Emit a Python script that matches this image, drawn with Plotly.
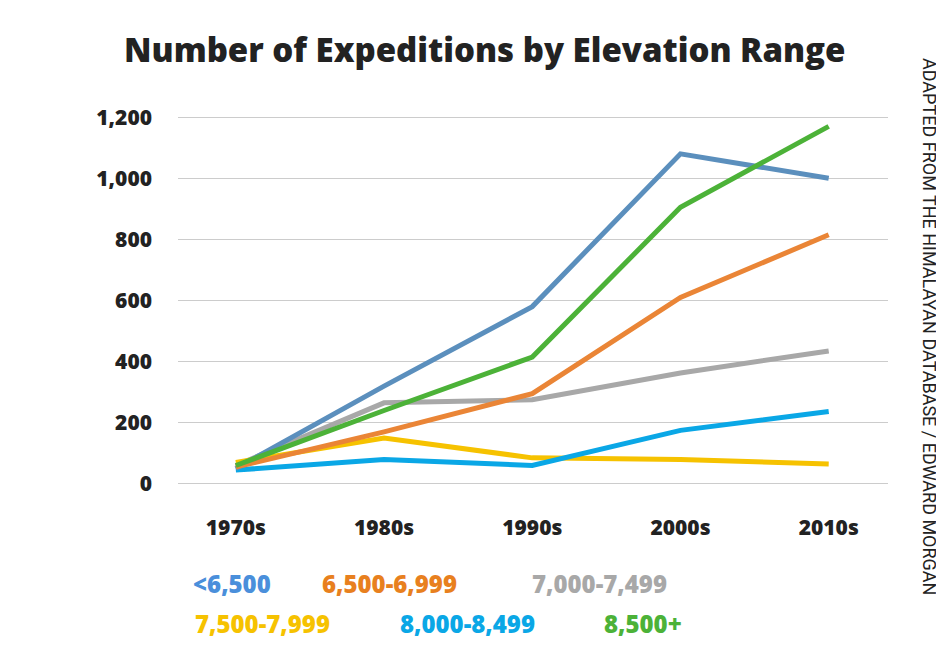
import plotly.graph_objects as go

decades = ["1970s", "1980s", "1990s", "2000s", "2010s"]
series_names = ["<6,500", "6,500-6,999", "7,000-7,499", "7,500-7,999", "8,000-8,499", "8,500+"]
v_lt6500 = [50, 320, 580, 1080, 1000]
v_6500 = [55, 170, 295, 610, 815]
v_7000 = [60, 265, 275, 363, 435]
v_7500 = [70, 150, 85, 80, 65]
v_8000 = [45, 80, 60, 175, 237]
v_8500 = [60, 240, 415, 905, 1170]
values = [v_lt6500, v_6500, v_7000, v_7500, v_8000, v_8500]
line_colors = ["#5b8fbd", "#ea8536", "#a8a8a8", "#f6c200", "#0aa7e6", "#4cb238"]
text_colors = ["#4a8fdb", "#e8801e", "#a8a8a8", "#f6c200", "#0aa7e6", "#4cb238"]
tick_vals = [0, 200, 400, 600, 800, 1000, 1200]
tick_text = ["0", "200", "400", "600", "800", "1,000", "1,200"]

order = [2, 3, 4, 0, 1, 5]
fig = go.Figure()
for i in order:
    fig.add_trace(go.Scatter(x=list(range(len(decades))), y=values[i], mode="lines",
                             name=series_names[i], line=dict(color=line_colors[i], width=5)))

L, R, T, B = 170, 880, 100, 485
W, H = R - L, B - T
def px(x): return (x - L) / W
def py(y): return (B - y) / H

font = "Open Sans"
ann = [dict(text="Number of Expeditions by Elevation Range", x=px(477), y=py(42),
            xanchor="center", yanchor="middle",
            xref="paper", yref="paper", showarrow=False,
            font=dict(size=33, color="#222", family=font, weight=800)),
       dict(text="ADAPTED FROM THE HIMALAYAN DATABASE / EDWARD MORGAN", x=px(922), y=py(318),
            xanchor="center", yanchor="middle",
            xref="paper", yref="paper", showarrow=False, textangle=90,
            font=dict(size=18, color="#222", family="Roboto"))]
legend_pos = [(183, 575), (312, 575), (522, 575), (185, 615), (390, 615), (594, 615)]
for i, (lx, ly) in enumerate(legend_pos):
    ann.append(dict(text=series_names[i], x=px(lx), y=py(ly), xanchor="left", yanchor="middle",
                    xref="paper", yref="paper", showarrow=False,
                    font=dict(size=24, color=text_colors[i], family=font, weight=800)))

fig.update_layout(
    width=944, height=672, margin=dict(l=L, r=944 - R, t=T, b=672 - B),
    paper_bgcolor="white", plot_bgcolor="white", showlegend=False, annotations=ann,
    font=dict(family=font, color="#222"),
    xaxis=dict(range=[-0.39, 4.4], tickvals=list(range(5)), ticktext=decades,
               showgrid=False, zeroline=False, showline=False, ticks="",
               ticklabelstandoff=20, tickfont=dict(size=21, weight=800)),
    yaxis=dict(range=[-30, 1230], tickvals=tick_vals, ticktext=tick_text,
               showgrid=True, gridcolor="#cccccc", gridwidth=1, zeroline=False, ticks="",
               ticklabelstandoff=25, tickfont=dict(size=21, weight=800)),
)
fig.write_html("out.html")
